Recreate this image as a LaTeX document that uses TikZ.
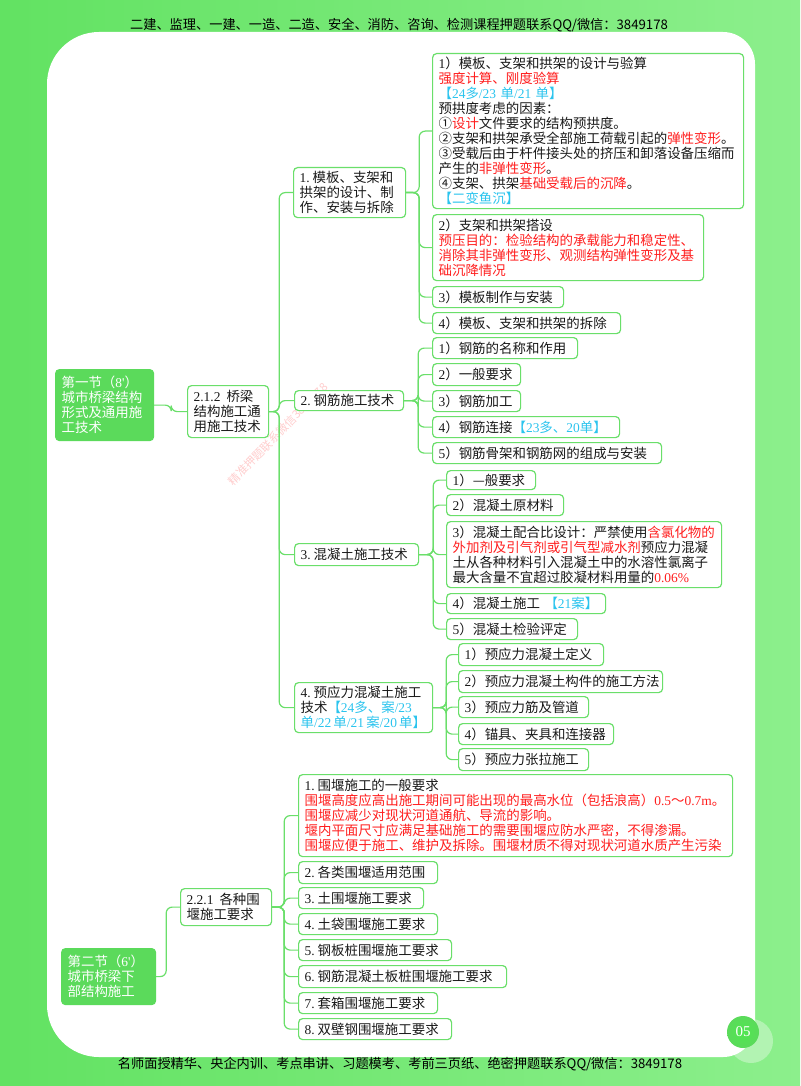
\documentclass[tikz,border=0pt]{standalone}
\usepackage{fontspec}
\setmainfont{Noto Sans CJK SC}
\newfontfamily\latfont{Liberation Serif}
\newcommand\lat[1]{{\latfont #1}}
\newcommand\nm[1]{\lat{#1}\kern3pt}
\definecolor{lineG}{HTML}{6ADF6A}
\definecolor{boxG}{HTML}{5BDA5B}
\definecolor{bgL}{HTML}{62E262}
\definecolor{bgR}{HTML}{8CEF8C}
\definecolor{myred}{HTML}{FF1E1E}
\definecolor{mycyan}{HTML}{2BC4EE}
\newcommand\rd[1]{\textcolor{myred}{#1}}
\newcommand\cy[1]{\textcolor{mycyan}{#1}}
\newcommand\fs{\fontsize{13.45}{15}\selectfont}
\begin{document}
\begin{tikzpicture}[x=1pt,y=-1pt,
  bx/.style={draw=lineG, line width=1.2pt, rounded corners=4pt, fill=white, align=left,
    inner xsep=6pt, inner ysep=0pt, anchor=north west, font=\fs, text=black!90},
  gbx/.style={bx, fill=boxG, draw=boxG, text=white},
  conn/.style={draw=lineG, line width=1.2pt, rounded corners=6pt},
  wmark/.style={text=myred, opacity=0.22, font=\fontsize{11.5}{11.5}\selectfont}
]
\useasboundingbox (0,0) rectangle (800,1086);
\fill[left color=bgL, right color=bgR] (0,0) rectangle (800,1086);
% white panel
\fill[white] (400,32) [rounded corners=32pt] -- (755,32) -- (755,1057) -- (400,1057)
  [rounded corners=52pt] -- (47,1057) -- (47,32) -- cycle;

% header / footer
\node[font=\fontsize{13.2}{13.2}\selectfont, text=black] (hdr) at (399,25)
  {二建、监理、一建、一造、二造、安全、消防、咨询、检测课程押题联系QQ/微信：3849178};
\node[font=\fontsize{13.2}{13.2}\selectfont, text=black] (ftr) at (400,1064)
  {名师面授精华、央企内训、考点串讲、习题模考、考前三页纸、绝密押题联系QQ/微信：3849178};

% watermark
\node[wmark, rotate=46] (wm1) at (278,434) {精准押题联系微信3849178};

% badge
\fill[white, opacity=0.35] (751,1041) circle (22);
\shade[inner color=green!25!lineG, outer color=boxG] (743,1032) circle (16);
\node[text=white, font=\latfont\fontsize{15}{15}\selectfont] (badge) at (743,1032) {05};

% ===== Section 1 =====
\node[gbx, text width=86pt, minimum height=71pt] (s1) at (55,369)
  {第一节（\lat{8'}）\\城市桥梁结构\\形式及通用施\\工技术};
\node[bx, text width=69pt, minimum height=52pt] (b212) at (187,385)
  {\lat{2.1.2}\hspace{6pt}桥梁\\结构施工通\\用施工技术};

\node[bx, text width=100pt, minimum height=50pt] (c1) at (293,167)
  {\nm{1.}模板、支架和\\拱架的设计、制\\作、安装与拆除};
\node[bx, text width=97pt, minimum height=20pt] (c2) at (294,390)
  {\nm{2.}钢筋施工技术};
\node[bx, text width=112pt, minimum height=22pt] (c3) at (294,543)
  {\nm{3.}混凝土施工技术};
\node[bx, text width=126pt, minimum height=50pt] (c4) at (294,682)
  {\nm{4.}预应力混凝土施工\\\mbox{技术\cy{【\lat{24}多、案\lat{/23}}}\\\mbox{\cy{单\lat{/22\,}单\lat{/21\,}案\lat{/20\,}单】}}};

% group 1
\node[bx, text width=299pt, minimum height=155pt] (d11) at (432,53)
  {\lat{1}）模板、支架和拱架的设计与验算\\
   \rd{强度计算、刚度验算}\\
   \cy{【\lat{24}多\lat{/23 }单\lat{/21 }单】}\\
   预拱度考虑的因素：\\
   ①\rd{设计}文件要求的结构预拱度。\\
   ②支架和拱架承受全部施工荷载引起的\rd{弹性变形}。\\
   ③受载后由于杆件接头处的挤压和卸落设备压缩而\\
   产生的\rd{非弹性变形}。\\
   ④支架、拱架\rd{基础受载后的沉降}。\\
   \cy{【二变鱼沉】}};
\node[bx, text width=259pt, minimum height=66pt] (d12) at (432,214)
  {\lat{2}）支架和拱架搭设\\
   \rd{预压目的：检验结构的承载能力和稳定性、}\\
   \rd{消除其非弹性变形、观测结构弹性变形及基}\\
   \rd{础沉降情况}};
\node[bx, text width=119pt, minimum height=21pt] (d13) at (432,286) {\lat{3}）模板制作与安装};
\node[bx, text width=176pt, minimum height=21pt] (d14) at (432,312) {\lat{4}）模板、支架和拱架的拆除};

% group 2
\node[bx, text width=133pt, minimum height=21pt] (d21) at (432,337) {\lat{1}）钢筋的名称和作用};
\node[bx, text width=76pt, minimum height=22pt] (d22) at (432,363) {\lat{2}）一般要求};
\node[bx, text width=76pt, minimum height=21pt] (d23) at (432,390) {\lat{3}）钢筋加工};
\node[bx, text width=175pt, minimum height=21pt] (d24) at (432,416) {\lat{4}）钢筋连接\cy{【\lat{23}多、\lat{20}单】}};
\node[bx, text width=217pt, minimum height=21pt] (d25) at (432,442) {\lat{5}）钢筋骨架和钢筋网的组成与安装};

% group 3
\node[bx, text width=77pt, minimum height=19pt] (d31) at (446,470) {\lat{1}）—般要求};
\node[bx, text width=105pt, minimum height=21pt] (d32) at (446,494) {\lat{2}）混凝土原材料};
\node[bx, text width=263pt, minimum height=66pt] (d33) at (446,521)
  {\lat{3}）混凝土配合比设计：严禁使用\rd{含氯化物的}\\
   \rd{外加剂及引气剂或引气型减水剂}预应力混凝\\
   土从各种材料引入混凝土中的水溶性氯离子\\
   最大含量不宜超过胶凝材料用量的\rd{\lat{0.06\%}}};
\node[bx, text width=147pt, minimum height=20pt] (d34) at (446,593) {\lat{4}）混凝土施工 \cy{【\lat{21}案】}};
\node[bx, text width=119pt, minimum height=21pt] (d35) at (446,618) {\lat{5}）混凝土检验评定};

% group 4
\node[bx, text width=133pt, minimum height=22pt] (d41) at (458,643) {\lat{1}）预应力混凝土定义};
\node[bx, text width=192pt, minimum height=22pt] (d42) at (458,670) {\lat{2}）预应力混凝土构件的施工方法};
\node[bx, text width=118pt, minimum height=21pt] (d43) at (458,696) {\lat{3}）预应力筋及管道};
\node[bx, text width=143pt, minimum height=21pt] (d44) at (458,723) {\lat{4}）锚具、夹具和连接器};
\node[bx, text width=118pt, minimum height=22pt] (d45) at (458,748) {\lat{5}）预应力张拉施工};

% ===== Section 2 =====
\node[gbx, text width=82pt, minimum height=56pt] (s2) at (61,948)
  {第二节（\lat{6'}）\\城市桥梁下\\部结构施工};
\node[bx, text width=79pt, minimum height=37pt] (b221) at (180,888)
  {\lat{2.2.1}\hspace{6pt}各种围\\堰施工要求};

\node[bx, text width=422pt, minimum height=82pt] (e1) at (298,774)
  {\nm{1.}围堰施工的一般要求\\
   \rd{围堰高度应高出施工期间可能出现的最高水位（包括浪高）\lat{0.5}～\lat{0.7m}。}\\
   \rd{围堰应减少对现状河道通航、导流的影响。}\\
   \rd{堰内平面尺寸应满足基础施工的需要围堰应防水严密，不得渗漏。}\\
   \rd{围堰应便于施工、维护及拆除。围堰材质不得对现状河道水质产生污染}};
\node[bx, text width=127pt, minimum height=22pt] (e2) at (298,861) {\nm{2.}各类围堰适用范围};
\node[bx, text width=113pt, minimum height=21pt] (e3) at (298,887) {\nm{3.}土围堰施工要求};
\node[bx, text width=127pt, minimum height=21pt] (e4) at (298,913) {\nm{4.}土袋围堰施工要求};
\node[bx, text width=141pt, minimum height=21pt] (e5) at (298,939) {\nm{5.}钢板桩围堰施工要求};
\node[bx, text width=196pt, minimum height=22pt] (e6) at (298,965) {\nm{6.}钢筋混凝土板桩围堰施工要求};
\node[bx, text width=127pt, minimum height=21pt] (e7) at (298,992) {\nm{7.}套箱围堰施工要求};
\node[bx, text width=141pt, minimum height=21pt] (e8) at (298,1018) {\nm{8.}双壁钢围堰施工要求};

% ===== connectors =====
\draw[conn] (s1.east) -- ++(17,0) |- (b212.west);
\foreach \c in {c1,c2,c3,c4} \draw[conn] (b212.east) -- ++(10,0) |- (\c.west);
\foreach \c in {d11,d12,d13,d14} \draw[conn] (c1.east) -- ++(13,0) |- (\c.west);
\foreach \c in {d21,d22,d23,d24,d25} \draw[conn] (c2.east) -- ++(14,0) |- (\c.west);
\foreach \c in {d31,d32,d33,d34,d35} \draw[conn] (c3.east) -- ++(14,0) |- (\c.west);
\foreach \c in {d41,d42,d43,d44,d45} \draw[conn] (c4.east) -- ++(13,0) |- (\c.west);
\draw[conn] (s2.east) -- ++(10,0) |- (b221.west);
\foreach \c in {e1,e2,e3,e4,e5,e6,e7,e8} \draw[conn] (b221.east) -- ++(12,0) |- (\c.west);
\end{tikzpicture}
\end{document}
